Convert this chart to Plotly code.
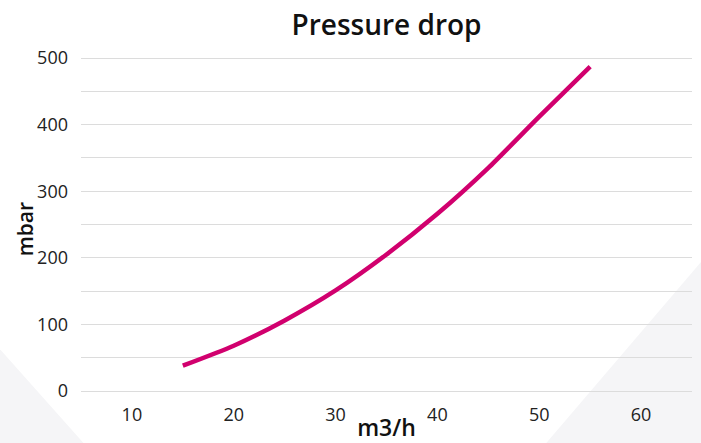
import plotly.graph_objects as go

flow = [15, 20, 25, 30, 35, 40, 45, 50, 55]
pressure = [38, 68, 106, 151, 205, 266, 335, 412, 487]

x_ticks = [10, 20, 30, 40, 50, 60]
y_ticks = [0, 100, 200, 300, 400, 500]

fig = go.Figure()
fig.add_trace(go.Scatter(
    x=flow, y=pressure, mode="lines",
    line=dict(color="#d1006e", width=4.5, shape="spline", smoothing=0.6),
    hoverinfo="skip", showlegend=False,
))

font_family = "Open Sans"
fig.update_layout(
    width=701, height=443,
    margin=dict(l=81, r=9, t=56, b=50),
    paper_bgcolor="white",
    plot_bgcolor="rgba(0,0,0,0)",
    title=dict(text="Pressure drop", x=0.5, xref="paper", xanchor="center", y=0.943, yanchor="middle",
               font=dict(family=font_family, size=28, color="#111111", weight=600)),
    font=dict(family=font_family, size=18, color="#222222"),
    xaxis=dict(range=[5, 65], tickvals=x_ticks, showgrid=False, zeroline=False, showline=False,
               ticks="", ticklabelstandoff=9, automargin=False,
               title=dict(text="m3/h", font=dict(size=23, color="#111111", weight=600), standoff=0)),
    yaxis=dict(range=[-3, 503], tickvals=y_ticks, showgrid=True, gridcolor="#dcdcdc", gridwidth=1,
               zeroline=False, showline=False, ticks="", ticklabelstandoff=12, automargin=False,
               minor=dict(dtick=50, tick0=0, showgrid=True, gridcolor="#dcdcdc", gridwidth=1)),
    annotations=[
        dict(text="mbar", xref="paper", yref="paper", x=-0.092, y=0.485, textangle=-90,
             xanchor="center", yanchor="middle", showarrow=False,
             font=dict(family=font_family, size=21, color="#111111", weight=600)),
    ],
    shapes=[
        dict(type="path", xref="paper", yref="paper", layer="below",
             path="M -0.14,0.145 L 0.0098,-0.16 L -0.14,-0.16 Z",
             fillcolor="#f5f5f7", line=dict(width=0)),
        dict(type="path", xref="paper", yref="paper", layer="below",
             path="M 0.756,-0.16 L 1.02,0.40 L 1.02,-0.16 Z",
             fillcolor="#f5f5f7", line=dict(width=0)),
    ],
)

fig.write_html("out.html", config={"displayModeBar": False},
               post_script="document.body.style.margin='0';document.body.style.overflow='hidden';")
